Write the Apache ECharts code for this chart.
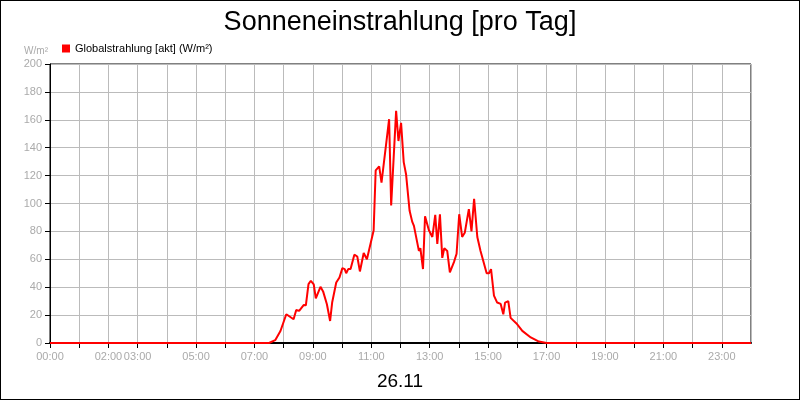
<!DOCTYPE html><html><head><meta charset="utf-8">
<script src="https://cdn.jsdelivr.net/npm/echarts@6/dist/echarts.min.js"></script>
<style>html,body{margin:0;padding:0}#c{width:798px;height:398px;border:1px solid #000}</style>
</head><body><div id="c"></div><script>
const hours=[0,7.5,7.71,7.89,8.09,8.13,8.34,8.43,8.53,8.69,8.76,8.85,8.93,9.03,9.1,9.26,9.35,9.48,9.59,9.66,9.8,9.91,10.01,10.09,10.14,10.21,10.29,10.42,10.52,10.61,10.74,10.85,10.91,11.08,11.15,11.27,11.35,11.61,11.68,11.85,11.93,12.02,12.11,12.19,12.31,12.4,12.46,12.63,12.68,12.77,12.84,12.97,13.09,13.19,13.26,13.35,13.43,13.5,13.6,13.69,13.83,13.92,14.01,14.11,14.2,14.34,14.43,14.52,14.63,14.74,14.8,14.95,15.03,15.1,15.2,15.31,15.43,15.52,15.58,15.69,15.77,15.97,16.17,16.46,16.74,17.0,24];
const values=[0,0,2,8.6,20.6,21,17,23.7,23,27.3,27,42.2,44.6,42,32,40.3,37,27.8,15.8,29,43.4,47,53.7,53,50,53,53,63.3,62,51.3,64.5,60,60,80.6,123.7,126.6,115,160.4,98.6,166.4,144.8,157.8,129.7,121,95,87,84,66,68,53,90.9,81,76,91.8,71,92.3,61,68,66,50.6,58,64,92.3,76,79,96,80,103.4,76,66,65,50,50,53,34,29,28,20.6,29,30,18,14,8.7,4,1,0,0];
const shownTicks=[0,2,3,5,7,9,11,13,15,17,19,21,23];
const pad=n=>(n<10?'0':'')+n;
const ch=echarts.init(document.getElementById('c'));
ch.setOption({
 animation:false,
 title:[{text:'Sonneneinstrahlung [pro Tag]',left:'center',top:3,textStyle:{fontFamily:'Liberation Sans',fontSize:27,fontWeight:'normal',color:'#000'}},
        {text:'26.11',left:'center',top:366,textStyle:{fontFamily:'Liberation Sans',fontSize:19,fontWeight:'normal',color:'#000'}}],
 legend:{left:56,top:37,itemWidth:8,itemHeight:8,icon:'rect',textStyle:{fontFamily:'Liberation Sans',fontSize:11,color:'#000'},data:['Globalstrahlung [akt] (W/m²)']},
 grid:{left:49,right:48,top:63,bottom:56,show:true,borderColor:'#000',borderWidth:1},
 xAxis:{type:'value',min:0,max:24,interval:1,
   axisLine:{lineStyle:{color:'#000',width:2}},axisTick:{show:true,lineStyle:{color:'#000'}},
   axisLabel:{color:'#aaa',fontFamily:'Liberation Sans',fontSize:11,showMaxLabel:false,formatter:v=>shownTicks.includes(v)?pad(v)+':00':''},
   splitLine:{lineStyle:{color:'#bbb'}}},
 yAxis:{type:'value',min:0,max:200,interval:20,name:'W/m²',nameGap:8,nameLocation:'end',
   nameTextStyle:{color:'#aaa',fontSize:10,align:'right',padding:[0,2,0,0]},
   axisLine:{show:true,lineStyle:{color:'#000'}},axisTick:{show:true,lineStyle:{color:'#000'}},
   axisLabel:{color:'#aaa',fontFamily:'Liberation Sans',fontSize:11},
   splitLine:{lineStyle:{color:'#bbb'}}},
 series:[{name:'Globalstrahlung [akt] (W/m²)',type:'line',color:'#ff0000',showSymbol:false,lineStyle:{width:2},
   data:hours.map((h,i)=>[h,values[i]])}]
});
</script></body></html>
